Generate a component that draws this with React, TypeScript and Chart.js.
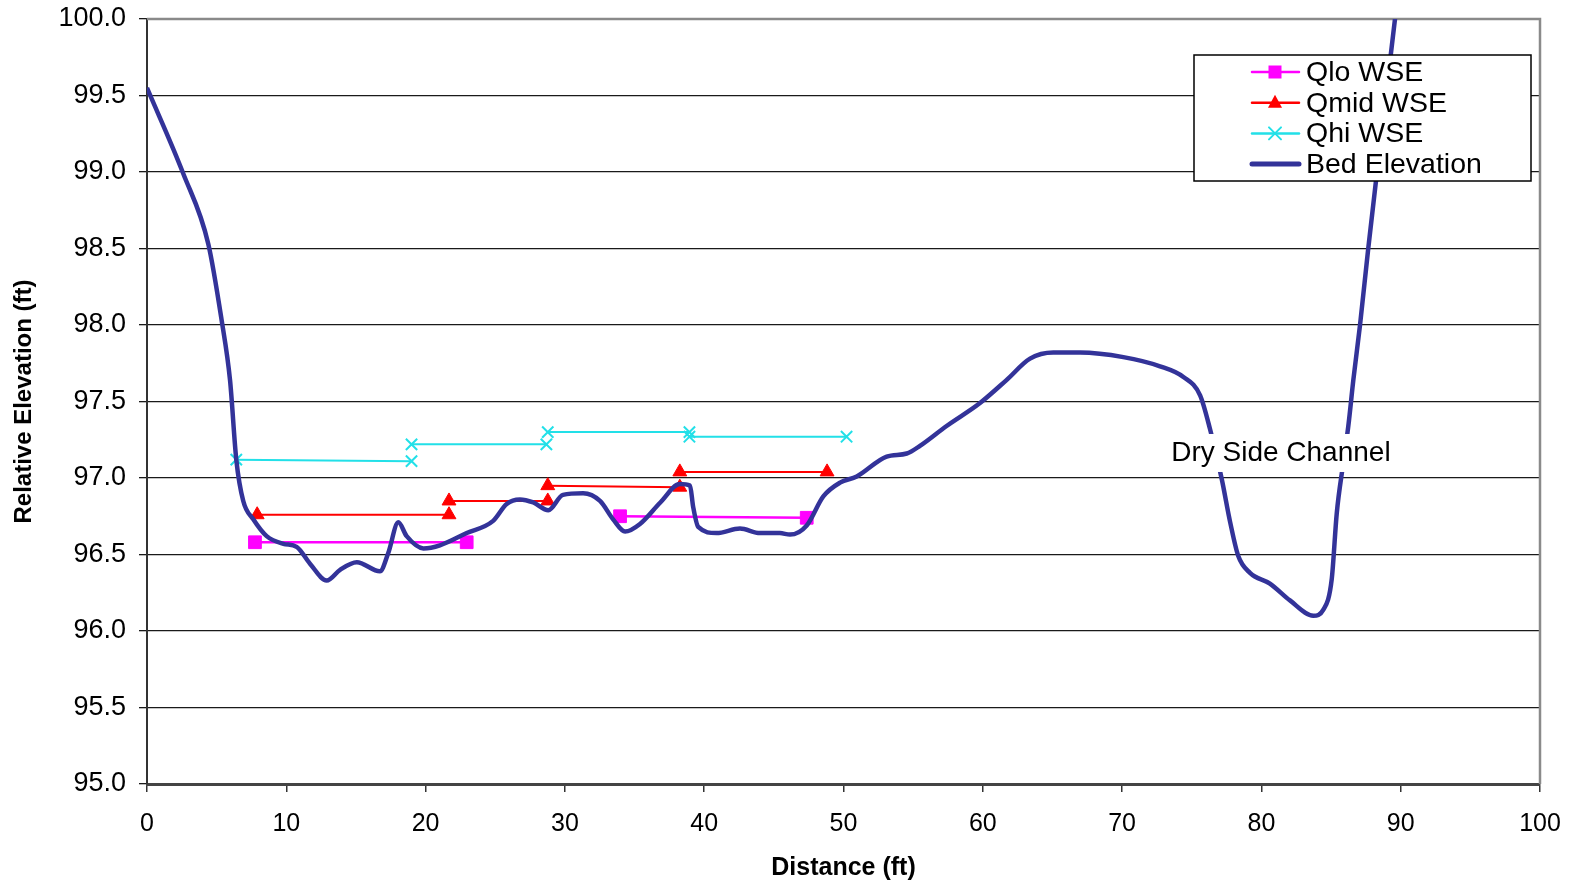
import React, { useEffect, useRef } from "react";
import { Chart, registerables } from "chart.js";

Chart.register(...registerables);

// Channel cross-section: bed profile (ft) across the section
const bedX = [0, 2.6, 4.4, 5.36, 5.96, 6.41, 6.91, 7.63, 8.59, 9.79, 10.74, 11.7, 12.9, 13.86, 15.06, 16.72, 17.32, 18.04, 18.64, 19.84, 21.03, 22.95, 24.85, 25.82, 26.77, 27.73, 28.81, 29.86, 31.31, 32.52, 33.46, 34.32, 35.39, 36.85, 38.25, 38.98, 39.21, 39.57, 40.89, 42.57, 44.0, 45.43, 46.16, 47.36, 48.55, 49.75, 50.95, 53.1, 54.54, 55.49, 57.4, 59.8, 61.7, 63.39, 65.06, 66.98, 70.09, 72.72, 74.4, 75.6, 76.31, 77.16, 77.76, 78.34, 79.18, 80.61, 82.05, 83.73, 84.45, 85.05, 85.41, 85.88, 86.24, 86.6, 87.08, 87.67, 88.45, 89.59, 90.1];
const bedY = [99.55, 98.99, 98.53, 98.03, 97.64, 97.12, 96.85, 96.73, 96.62, 96.57, 96.55, 96.44, 96.33, 96.4, 96.45, 96.39, 96.51, 96.71, 96.62, 96.54, 96.56, 96.64, 96.72, 96.83, 96.86, 96.84, 96.79, 96.89, 96.9, 96.85, 96.73, 96.65, 96.7, 96.84, 96.96, 96.95, 96.81, 96.68, 96.64, 96.67, 96.64, 96.64, 96.63, 96.69, 96.88, 96.97, 97.01, 97.14, 97.16, 97.21, 97.34, 97.49, 97.64, 97.78, 97.82, 97.82, 97.79, 97.73, 97.66, 97.54, 97.32, 96.99, 96.71, 96.49, 96.38, 96.31, 96.2, 96.1, 96.14, 96.34, 96.77, 97.1, 97.34, 97.64, 98.0, 98.5, 99.12, 100.0, 100.4];

// Water surface elevations: consecutive pairs are the two ends of one reach
const qloX = [7.75, 22.95, 33.96, 47.36];
const qloY = [96.58, 96.58, 96.75, 96.74];

const qmidX = [7.91, 21.68, 21.68, 28.77, 28.77, 38.25, 38.25, 48.82];
const qmidY = [96.76, 96.76, 96.85, 96.85, 96.95, 96.94, 97.04, 97.04];

const qhiX = [6.41, 18.99, 18.99, 28.67, 28.77, 38.94, 38.94, 50.22];
const qhiY = [97.12, 97.11, 97.22, 97.22, 97.3, 97.3, 97.27, 97.27];

const xTicks = [0, 10, 20, 30, 40, 50, 60, 70, 80, 90, 100];
const yTicks = [95.0, 95.5, 96.0, 96.5, 97.0, 97.5, 98.0, 98.5, 99.0, 99.5, 100.0];

const seriesNames = ["Qlo WSE", "Qmid WSE", "Qhi WSE", "Bed Elevation"];
const sideChannelNote = "Dry Side Channel";

const FONT = "'Liberation Sans', Arial, sans-serif";
const BED = "#333399";
const QLO = "#FF00FF";
const QMID = "#FF0000";
const QHI = "#22E0E8";

// Break a list of endpoint pairs into separate segments with null gaps
function reaches(xs: number[], ys: number[]) {
  const pts: { x: number; y: number | null }[] = [];
  for (let i = 0; i < xs.length; i += 2) {
    if (i > 0) pts.push({ x: xs[i], y: null });
    pts.push({ x: xs[i], y: ys[i] });
    pts.push({ x: xs[i + 1], y: ys[i + 1] });
  }
  return pts;
}

function drawMarker(ctx: CanvasRenderingContext2D, style: string, x: number, y: number, color: string) {
  ctx.save();
  ctx.fillStyle = color;
  ctx.strokeStyle = color;
  ctx.lineWidth = 2;
  ctx.beginPath();
  if (style === "rect") {
    ctx.rect(x - 6.5, y - 6.5, 13, 13);
    ctx.fill();
  } else if (style === "triangle") {
    ctx.moveTo(x, y - 8);
    ctx.lineTo(x + 7, y + 5);
    ctx.lineTo(x - 7, y + 5);
    ctx.closePath();
    ctx.fill();
  } else if (style === "crossRot") {
    ctx.moveTo(x - 6, y - 6);
    ctx.lineTo(x + 6, y + 6);
    ctx.moveTo(x + 6, y - 6);
    ctx.lineTo(x - 6, y + 6);
    ctx.stroke();
  }
  ctx.restore();
}

const framePlugin = {
  id: "frame",
  beforeDatasetsDraw(chart: any) {
    const { ctx, chartArea: a } = chart;
    ctx.save();
    ctx.strokeStyle = "#8a8a8a";
    ctx.lineWidth = 2.5;
    ctx.beginPath();
    ctx.moveTo(a.left, a.top);
    ctx.lineTo(a.right, a.top);
    ctx.lineTo(a.right, a.bottom);
    ctx.stroke();
    ctx.restore();
  },
  afterDatasetsDraw(chart: any) {
    const { ctx, scales } = chart;
    const cx = scales.x.getPixelForValue(81.4);
    const cy = scales.y.getPixelForValue(97.17);
    ctx.save();
    ctx.font = `28px ${FONT}`;
    const w = ctx.measureText(sideChannelNote).width;
    ctx.fillStyle = "#ffffff";
    ctx.fillRect(cx - w / 2 - 8, cy - 18, w + 16, 38);
    ctx.fillStyle = "#000000";
    ctx.textAlign = "center";
    ctx.textBaseline = "middle";
    ctx.fillText(sideChannelNote, cx, cy + 1);
    ctx.restore();
  },
  afterDraw(chart: any) {
    const { ctx } = chart;
    const bx = 1194, by = 55, bw = 337, bh = 126;
    ctx.save();
    ctx.fillStyle = "#ffffff";
    ctx.fillRect(bx, by, bw, bh);
    ctx.strokeStyle = "#000000";
    ctx.lineWidth = 1.5;
    ctx.strokeRect(bx, by, bw, bh);
    const items = [
      { color: QLO, style: "rect", width: 2.5 },
      { color: QMID, style: "triangle", width: 2.5 },
      { color: QHI, style: "crossRot", width: 2.5 },
      { color: BED, style: "", width: 5 },
    ];
    ctx.font = `28.5px ${FONT}`;
    ctx.textBaseline = "middle";
    items.forEach((it, i) => {
      const y = by + 17 + i * 30.7;
      ctx.strokeStyle = it.color;
      ctx.lineWidth = it.width;
      ctx.lineCap = "round";
      ctx.beginPath();
      ctx.moveTo(1252, y);
      ctx.lineTo(1299, y);
      ctx.stroke();
      if (it.style) drawMarker(ctx, it.style, 1275, y, it.color);
      ctx.fillStyle = "#000000";
      ctx.fillText(seriesNames[i], 1306, y + 1);
    });
    ctx.restore();
  },
};

export default function App() {
  const ref = useRef<HTMLCanvasElement>(null);

  useEffect(() => {
    document.body.style.margin = "0";
    const bed = bedX.map((x, i) => ({ x, y: bedY[i] }));
    const chart = new Chart(ref.current as HTMLCanvasElement, {
      type: "line",
      data: {
        datasets: [
          {
            label: seriesNames[3],
            data: bed,
            borderColor: BED,
            backgroundColor: BED,
            borderWidth: 4.5,
            pointRadius: 0,
            cubicInterpolationMode: "monotone",
            order: 0,
          },
          {
            label: seriesNames[2],
            data: reaches(qhiX, qhiY),
            borderColor: QHI,
            backgroundColor: QHI,
            borderWidth: 2,
            pointStyle: "crossRot",
            pointRadius: 8,
            pointBorderWidth: 2,
            spanGaps: false,
            order: 1,
          },
          {
            label: seriesNames[1],
            data: reaches(qmidX, qmidY),
            borderColor: QMID,
            backgroundColor: QMID,
            borderWidth: 2,
            pointStyle: "triangle",
            pointRadius: 8,
            pointBorderWidth: 1,
            spanGaps: false,
            order: 2,
          },
          {
            label: seriesNames[0],
            data: reaches(qloX, qloY),
            borderColor: QLO,
            backgroundColor: QLO,
            borderWidth: 2.5,
            pointStyle: "rect",
            pointRadius: 9,
            pointBorderWidth: 1,
            spanGaps: false,
            order: 3,
          },
        ],
      },
      options: {
        responsive: false,
        animation: false,
        devicePixelRatio: 1,
        layout: { padding: { top: 19, right: 32, left: 0, bottom: 0 } },
        plugins: {
          legend: { display: false },
          tooltip: { enabled: false },
        },
        scales: {
          x: {
            type: "linear",
            min: 0,
            max: 100,
            afterFit: (s: any) => {
              s.height = 100;
              s.paddingLeft = 0;
              s.paddingRight = 0;
            },
            afterBuildTicks: (s: any) => {
              s.ticks = xTicks.map((v) => ({ value: v }));
            },
            ticks: {
              font: { family: FONT, size: 25 },
              color: "#000000",
              padding: 17,
              maxRotation: 0,
            },
            grid: {
              drawOnChartArea: false,
              drawTicks: true,
              tickLength: 8,
              color: "#333333",
              lineWidth: 1.5,
            },
            border: { color: "#444444", width: 3 },
            title: {
              display: true,
              text: "Distance (ft)",
              font: { family: FONT, size: 25, weight: "bold" },
              color: "#000000",
              padding: { top: 6, bottom: 1 },
            },
          },
          y: {
            type: "linear",
            min: 95,
            max: 100,
            afterFit: (s: any) => {
              s.width = 147;
              s.paddingTop = 0;
              s.paddingBottom = 0;
            },
            afterBuildTicks: (s: any) => {
              s.ticks = yTicks.map((v) => ({ value: v }));
            },
            ticks: {
              font: { family: FONT, size: 27 },
              color: "#000000",
              padding: 13,
              callback: (v: any) => Number(v).toFixed(1),
            },
            grid: {
              drawOnChartArea: true,
              drawTicks: true,
              tickLength: 8,
              color: "#1a1a1a",
              lineWidth: 1.3,
            },
            border: { color: "#333333", width: 2 },
            title: {
              display: true,
              text: "Relative Elevation (ft)",
              font: { family: FONT, size: 24, weight: "bold" },
              color: "#000000",
              padding: { top: 10, bottom: 0 },
            },
          },
        },
      },
      plugins: [framePlugin],
    });
    return () => chart.destroy();
  }, []);

  return (
    <div style={{ width: 1572, height: 884 }}>
      <canvas ref={ref} width={1572} height={884} style={{ display: "block" }} />
    </div>
  );
}
